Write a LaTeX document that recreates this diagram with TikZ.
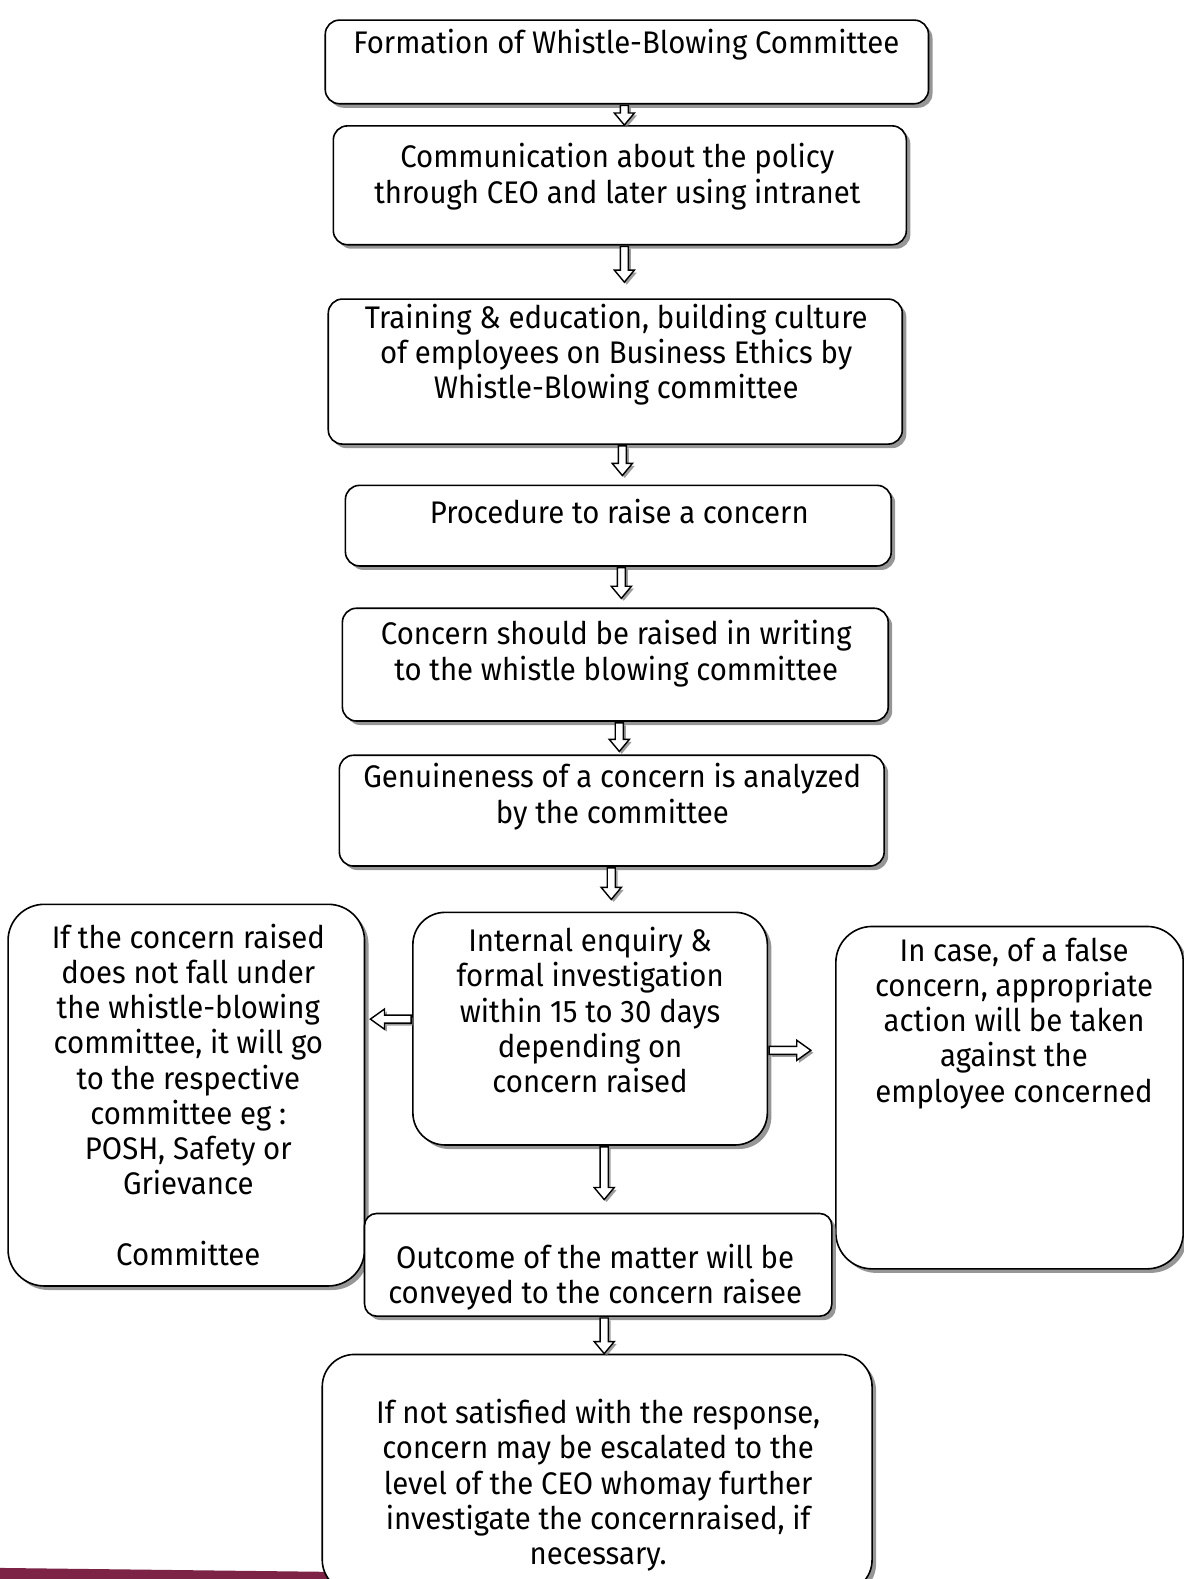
\documentclass[tikz,border=0pt]{standalone}
\usepackage{fontspec}
\setmainfont{Fira Sans}[FakeStretch=0.94]
\usetikzlibrary{calc,shadows}
\definecolor{scanbar}{RGB}{125,35,70}
\begin{document}
\begin{tikzpicture}[x=0.5pt,y=-0.5pt,
  shad/.style={drop shadow={shadow xshift=2pt,shadow yshift=-2pt,fill=black!55,opacity=0.75}},
  box/.style={draw,line width=0.8pt,rounded corners=7pt,fill=white,shad,inner sep=0pt},
  bigbox/.style={box,rounded corners=16pt},
  txt/.style={align=center,inner sep=0pt,font=\fontsize{15.5}{17.5}\selectfont},
  down/.style={draw,line width=0.7pt,fill=white,
    drop shadow={shadow xshift=1.2pt,shadow yshift=-1.2pt,fill=black!55,opacity=0.7},
    to path={($(\tikztotarget|-\tikztostart)+(-4,0)$) -- ($(\tikztotarget)+(-4,-12)$)
      -- ($(\tikztotarget)+(-10,-12)$) -- (\tikztotarget) -- ($(\tikztotarget)+(10,-12)$)
      -- ($(\tikztotarget)+(4,-12)$) -- ($(\tikztotarget|-\tikztostart)+(4,0)$) -- cycle}},
  leftarr/.style={draw,line width=0.7pt,fill=white,
    drop shadow={shadow xshift=1.2pt,shadow yshift=-1.2pt,fill=black!55,opacity=0.7},
    to path={($(\tikztostart)+(0,-4)$) -- ($(\tikztotarget|-\tikztostart)+(14,-4)$)
      -- ($(\tikztotarget|-\tikztostart)+(14,-10)$) -- (\tikztotarget|-\tikztostart)
      -- ($(\tikztotarget|-\tikztostart)+(14,10)$) -- ($(\tikztotarget|-\tikztostart)+(14,4)$)
      -- ($(\tikztostart)+(0,4)$) -- cycle}},
  rightarr/.style={draw,line width=0.7pt,fill=white,
    drop shadow={shadow xshift=1.2pt,shadow yshift=-1.2pt,fill=black!55,opacity=0.7},
    to path={($(\tikztostart)+(0,-4)$) -- ($(\tikztotarget|-\tikztostart)+(-14,-4)$)
      -- ($(\tikztotarget|-\tikztostart)+(-14,-10)$) -- (\tikztotarget|-\tikztostart)
      -- ($(\tikztotarget|-\tikztostart)+(-14,10)$) -- ($(\tikztotarget|-\tikztostart)+(-14,4)$)
      -- ($(\tikztostart)+(0,4)$) -- cycle}},
]
\useasboundingbox (0,0) rectangle (1175,1568);
% scan edge bar
\fill[scanbar] (0,1557) -- (335,1561) -- (335,1568) -- (0,1568) -- cycle;

% boxes
\node[box,minimum width=299.5pt,minimum height=41.5pt] (b1) at (622.5,61.5) {};
\node[box,minimum width=284.5pt,minimum height=59pt] (b2) at (615.5,184) {};
\node[box,minimum width=285pt,minimum height=72pt] (b3) at (611,369) {};
\node[box,minimum width=271pt,minimum height=40pt] (b4) at (614,522) {};
\node[box,minimum width=271pt,minimum height=56pt] (b5) at (611,660) {};
\node[box,minimum width=270.5pt,minimum height=55pt] (b6) at (607.5,805) {};
\node[bigbox,minimum width=176pt,minimum height=115.5pt] (c) at (586,1021.5) {};
\node[bigbox,rounded corners=18pt,minimum width=177pt,minimum height=189.5pt] (l) at (185,1087.5) {};
\node[bigbox,rounded corners=18pt,minimum width=172.5pt,minimum height=170pt] (r) at (1002.5,1090) {};
\node[box,rounded corners=6pt,minimum width=232pt,minimum height=51pt] (b8) at (594,1256) {};
\node[bigbox,minimum width=273pt,minimum height=118pt] (b9) at (593,1463) {};

% texts
\node[txt] (t1) at (622,44) {Formation of Whistle-Blowing Committee};
\node[txt] (t2) at (613,175.5) {Communication about the policy\\through CEO and later using intranet};
\node[txt] (t3) at (612,352) {Training \& education, building culture\\of employees on Business Ethics by\\Whistle-Blowing committee};
\node[txt] (t4) at (615,508) {Procedure to raise a concern};
\node[txt] (t5) at (612,649) {Concern should be raised in writing\\to the whistle blowing committee};
\node[txt] (t6) at (608,791) {Genuineness of a concern is analyzed\\by the committee};
\node[txt] (tc) at (586,1003) {Internal enquiry \&\\formal investigation\\within 15 to 30 days\\depending on\\concern raised};
\node[txt] (tl) at (187,1087) {If the concern raised\\does not fall under\\the whistle-blowing\\committee, it will go\\to the respective\\committee eg :\\POSH, Safety or\\Grievance\\[17.5pt]Committee};
\node[txt] (tr) at (1007,1016) {In case, of a false\\concern, appropriate\\action will be taken\\against the\\employee concerned};
\node[txt] (t8) at (591,1268) {Outcome of the matter will be\\conveyed to the concern raisee};
\node[txt] (t9) at (594,1475) {If not satisfied with the response,\\concern may be escalated to the\\level of the CEO whomay further\\investigate the concernraised, if\\necessary.};

% arrow tips
\coordinate (p2) at ($(b2.north)+(4.5,0)$);
\coordinate (p3) at ($(b3.north)+(9,-16)$);
\coordinate (p4) at ($(b4.north)+(4,-9)$);
\coordinate (p5) at ($(b5.north)+(6,-9)$);
\coordinate (p6) at ($(b6.north)+(7.5,-3)$);
\coordinate (pc) at ($(c.north)+(21,-12)$);
\coordinate (p8) at ($(b8.north)+(6,-13)$);
\coordinate (p9) at ($(b9.north)+(7,0)$);
\coordinate (pl) at ($(l.east)+(5,0)$);
\coordinate (pr) at ($(r.west)+(-24,0)$);
\coordinate (sl) at ($(c.west)+(-1,-9.5)$);
\coordinate (sr) at ($(c.east)+(1,21.5)$);

% connectors
\draw[down] ($(b1.south)+(0,1)$) to (p2);
\draw[down] ($(b2.south)+(0,1)$) to (p3);
\draw[down] ($(b3.south)+(0,1)$) to (p4);
\draw[down] ($(b4.south)+(0,1)$) to (p5);
\draw[down] ($(b5.south)+(0,1)$) to (p6);
\draw[down] ($(b6.south)+(0,1)$) to (pc);
\draw[down] ($(c.south)+(0,1)$) to (p8);
\draw[down] ($(b8.south)+(0,1)$) to (p9);
\draw[leftarr] (sl) to (pl);
\draw[rightarr] (sr) to (pr);
\end{tikzpicture}
\end{document}
